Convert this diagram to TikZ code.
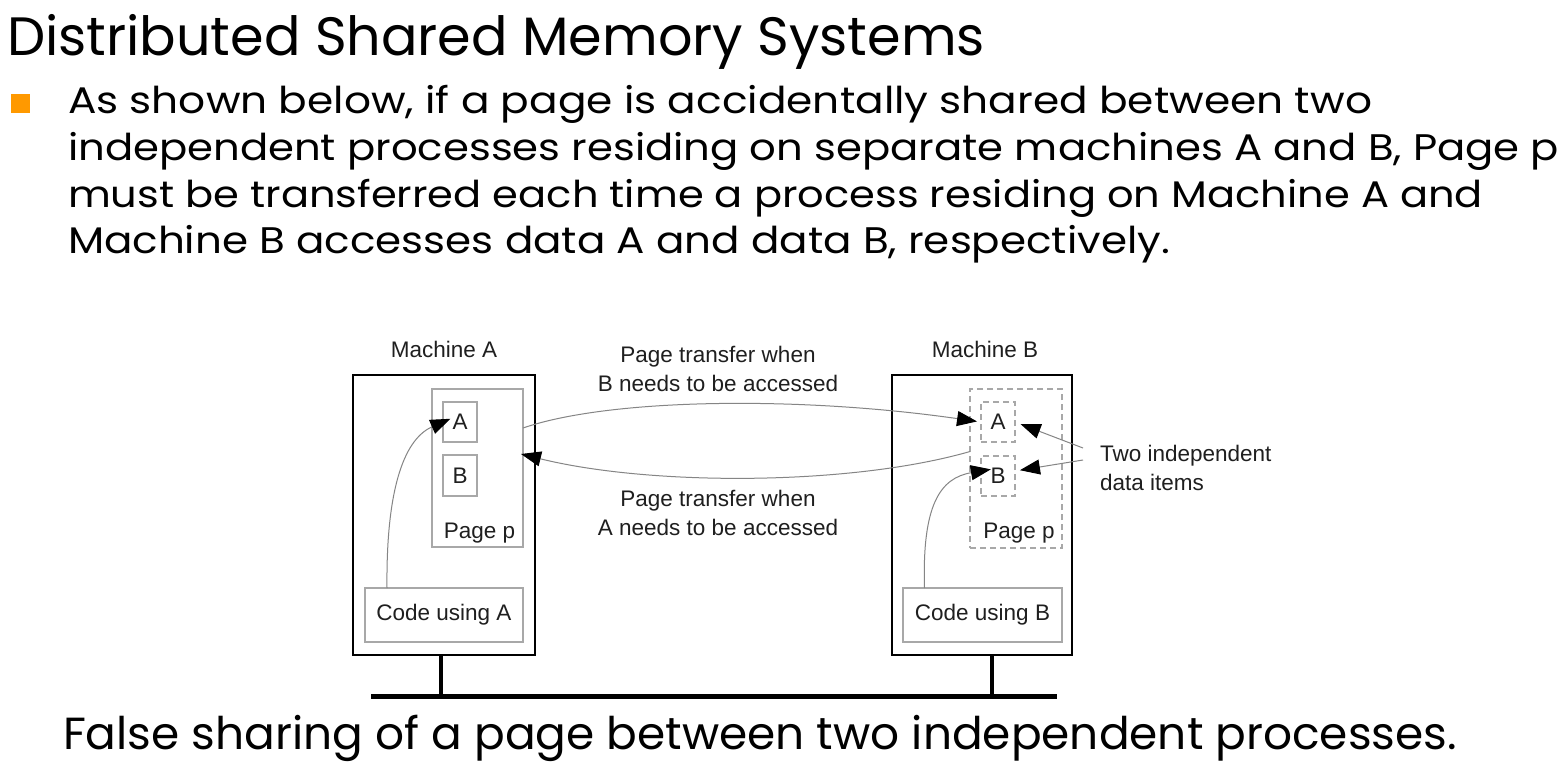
\documentclass[tikz,border=0pt]{standalone}
\usepackage{fontspec}
\usepackage{graphicx}
\setmainfont{Liberation Sans}
\newfontfamily\slidefont{Poppins}
\usetikzlibrary{arrows.meta,calc}

\definecolor{bulletorange}{HTML}{FF9900}
\definecolor{linegray}{HTML}{858585}
\definecolor{boxgray}{HTML}{A8A8A8}

% stretch a line of slide text to a given width, keeping its height
\newcommand\fitline[2]{\resizebox{#1}{\height}{#2}}

\tikzset{
  slidetext/.style={anchor=base west, inner sep=0pt, outer sep=0pt, text=black},
  titlefont/.style={font=\slidefont\fontsize{54}{60}\selectfont},
  bodyfont/.style={font=\slidefont\fontsize{37}{47}\selectfont},
  capfont/.style={font=\slidefont\fontsize{45}{50}\selectfont},
  diagtext/.style={anchor=base, inner sep=0pt, outer sep=0pt, text=black!88,
    font=\fontsize{22.5}{27}\selectfont},
  machinebox/.style={draw=black, line width=2.8pt, inner sep=0pt, outer sep=0pt},
  pagebox/.style={draw=boxgray, line width=1.3pt, inner sep=0pt, outer sep=0pt},
  dashedbox/.style={pagebox, dash pattern=on 6pt off 4pt},
  itemtext/.style={text=black!88, font=\fontsize{22.5}{27}\selectfont,
    minimum width=34pt, minimum height=40pt},
  codebox/.style={pagebox, minimum width=158pt, minimum height=54pt,
    text=black!88, font=\fontsize{22.5}{27}\selectfont},
  link/.style={draw=linegray, line width=1pt,
    -{Triangle[length=20pt,width=15pt,color=black]}},
  bus/.style={draw=black, line width=5pt},
  stub/.style={draw=black, line width=3.6pt},
}

\begin{document}
\begin{tikzpicture}[x=1pt,y=-1pt]
  \useasboundingbox[fill=white] (0,0) rectangle (1564,766);

  % heading and bullet text
  \node[slidetext, titlefont] (title) at (7,55)
    {\fitline{978pt}{Distributed Shared Memory Systems}};
  \node[fill=bulletorange, minimum size=19pt, inner sep=0pt] (bullet) at (20,103) {};
  \node[slidetext, bodyfont] (l1) at (68,113)
    {\fitline{1304pt}{As shown below, if a page is accidentally shared between two}};
  \node[slidetext, bodyfont] (l2) at (68,160)
    {\fitline{1491pt}{independent processes residing on separate machines A and B, Page p}};
  \node[slidetext, bodyfont] (l3) at (68,207)
    {\fitline{1415pt}{must be transferred each time a process residing on Machine A and}};
  \node[slidetext, bodyfont] (l4) at (68,253)
    {\fitline{1102pt}{Machine B accesses data A and data B, respectively.}};

  % machine A
  \node[machinebox, minimum width=182pt, minimum height=280pt] (macA) at (444,515) {};
  \node[diagtext] (macAlbl) at (444,357) {Machine A};
  \node[pagebox, minimum width=91pt, minimum height=158pt] (pageA) at (477.5,468) {};
  \node[pagebox, itemtext] (aA) at (460,422) {A};
  \node[pagebox, itemtext, minimum height=41pt] (bA) at (460,475.5) {B};
  \node[diagtext] (pageAlbl) at (479.5,538) {Page p};
  \node[codebox] (codeA) at (444,615) {Code using A};

  % machine B
  \node[machinebox, minimum width=180pt, minimum height=280pt] (macB) at (982,515) {};
  \node[diagtext] (macBlbl) at (985,357) {Machine B};
  \node[dashedbox, minimum width=92pt, minimum height=159pt] (pageB) at (1016,468.5) {};
  \node[dashedbox, itemtext] (aB) at (998,422) {A};
  \node[dashedbox, itemtext, minimum height=40pt] (bB) at (998,476) {B};
  \node[diagtext] (pageBlbl) at (1019,538) {Page p};
  \node[codebox, minimum width=159pt] (codeB) at (982.5,615) {Code using B};

  % transfer labels
  \node[diagtext] (t1a) at (718,362) {Page transfer when};
  \node[diagtext] (t1b) at (718,391) {B needs to be accessed};
  \node[diagtext] (t2a) at (718,506) {Page transfer when};
  \node[diagtext] (t2b) at (718,535) {A needs to be accessed};

  % side note
  \node[diagtext, anchor=base west] (note1) at (1100,461) {Two independent};
  \node[diagtext, anchor=base west] (note2) at (1100,490) {data items};
  \coordinate (noteA) at (1083,448);
  \coordinate (noteB) at (1083,460);

  % local accesses
  \draw[link, shorten >=-8pt] ($(codeA.north)+(-57,0)$)
    .. controls (386,495) and (402,440) .. (aA.west);
  \draw[link, shorten >=-10pt] ($(codeB.north)+(-58,0)$)
    .. controls (922,505) and (940,478) .. ($(bB.west)+(0,-5)$);

  % page transfers between the machines
  \draw[link, shorten >=4pt] ($(pageA.east)+(0,-40)$)
    .. controls (610,398) and (800,396) .. (aB.west);
  \draw[link] ($(pageB.west)+(0,-17)$)
    .. controls (850,486) and (650,486) .. ($(pageA.east)+(-2,-14)$);

  % pointers from the note to the data items
  \draw[link, shorten >=6pt] (noteA) -- (aB.east);
  \draw[link, shorten >=5pt] (noteB) -- ($(bB.east)+(0,-5)$);

  % network
  \coordinate (busL) at (371,696);
  \coordinate (busR) at (1057,696);
  \draw[bus] (busL) -- (busR);
  \draw[stub] ($(macA.south)+(-3,0)$) -- ($(macA.south |- busL)+(-3,0)$);
  \draw[stub] ($(macB.south)+(10,0)$) -- ($(macB.south |- busL)+(10,0)$);

  % caption
  \node[slidetext, capfont] (caption) at (63,749)
    {\fitline{1394pt}{False sharing of a page between two independent processes.}};
\end{tikzpicture}
\end{document}
